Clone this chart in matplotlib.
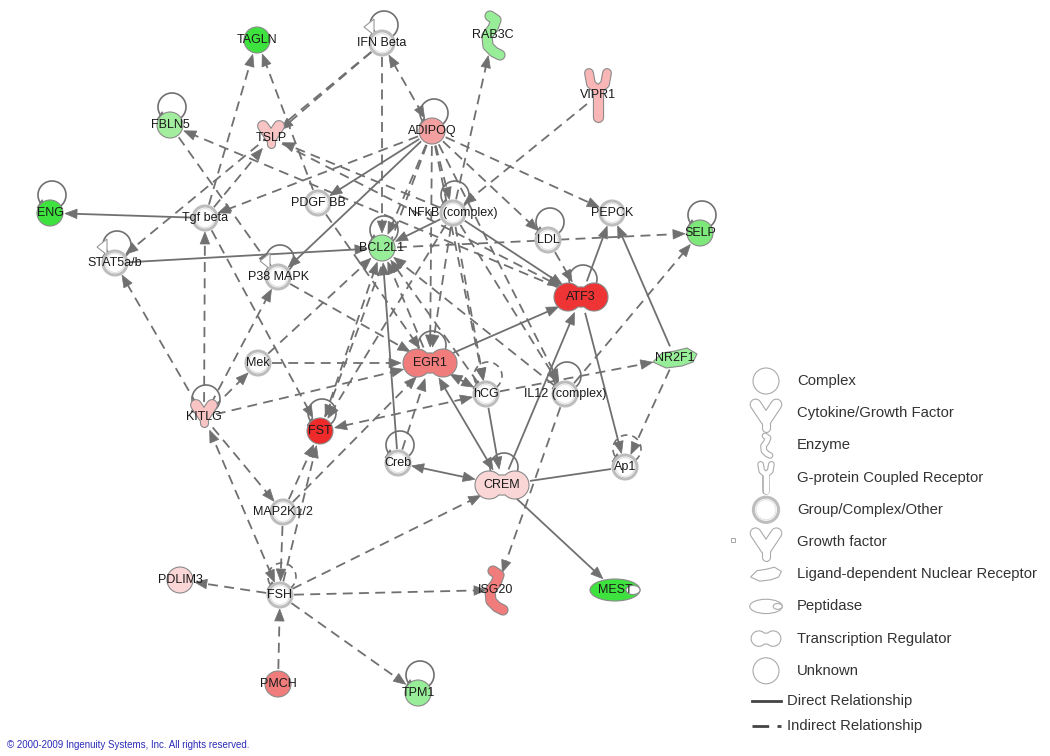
import numpy as np
import matplotlib.pyplot as plt
from matplotlib.patches import Circle, Ellipse, Polygon, Rectangle

plt.rcParams['font.family'] = ['Liberation Sans', 'DejaVu Sans']

# ---- network data (pixel layout of the IPA picture) ----
node_names = ['TAGLN', 'IFN Beta', 'RAB3C', 'VIPR1', 'FBLN5', 'TSLP', 'ADIPOQ',
              'ENG', 'Tgf beta', 'PDGF BB', 'NFkB (complex)', 'PEPCK', 'LDL',
              'SELP', 'STAT5a/b', 'BCL2L1', 'P38 MAPK', 'ATF3', 'Mek', 'EGR1',
              'hCG', 'IL12 (complex)', 'NR2F1', 'KITLG', 'FST', 'Creb', 'CREM',
              'Ap1', 'MAP2K1/2', 'PDLIM3', 'FSH', 'ISG20', 'MEST', 'PMCH', 'TPM1']
node_x = [257, 382, 493, 598, 170, 271, 432, 50, 205, 318, 453, 612, 548,
          700, 115, 382, 278, 581, 258, 430, 486, 565, 675, 204, 320, 398, 502,
          625, 283, 180, 280, 496, 615, 278, 418]
node_y = [40, 43, 35, 95, 125, 138, 131, 213, 218, 203, 213, 213, 240,
          233, 263, 248, 277, 297, 363, 363, 394, 394, 358, 417, 431, 463, 485,
          467, 512, 580, 595, 590, 590, 684, 693]
node_kind = ['circle', 'group', 'enzyme', 'gpcr', 'circle', 'cytokine', 'circle',
             'circle', 'group', 'group', 'group', 'group', 'group',
             'circle', 'group', 'circle', 'group', 'tr', 'group', 'tr',
             'group', 'group', 'ldnr', 'cytokine', 'circle', 'group', 'tr',
             'group', 'group', 'circle', 'group', 'enzyme', 'peptidase', 'circle', 'circle']
node_color = ['#3ee23e', 'w', '#98ee98', '#f8b6b6', '#a2ee9e', '#f8c4c4', '#f4a0a0',
              '#3ee23e', 'w', 'w', 'w', 'w', 'w',
              '#7ee87a', 'w', '#98ee98', 'w', '#ee3434', 'w', '#f07c7c',
              'w', 'w', '#98ee98', '#f8c4c4', '#ee2a2a', 'w', '#fad6d6',
              'w', 'w', '#fad6d6', 'w', '#f07c7c', '#3ee23e', '#f07c7c', '#98ee98']

solid_loops = ['IFN Beta', 'FBLN5', 'ADIPOQ', 'ENG', 'NFkB (complex)', 'LDL', 'SELP',
               'STAT5a/b', 'BCL2L1', 'P38 MAPK', 'ATF3', 'EGR1', 'IL12 (complex)',
               'KITLG', 'FST', 'Creb', 'CREM', 'TPM1']
dashed_loops = ['hCG', 'Ap1', 'FSH']
triangle_loops = ['IFN Beta', 'STAT5a/b', 'P38 MAPK']

direct_edges = [('Tgf beta', 'ENG'), ('STAT5a/b', 'BCL2L1'), ('ADIPOQ', 'PDGF BB'),
                ('ADIPOQ', 'P38 MAPK'), ('NFkB (complex)', 'BCL2L1'),
                ('NFkB (complex)', 'ATF3'), ('ATF3', 'PEPCK'), ('NR2F1', 'PEPCK'),
                ('ATF3', 'Ap1'), ('CREM', 'ATF3'), ('EGR1', 'ATF3'), ('hCG', 'CREM'),
                ('Creb', 'BCL2L1'), ('CREM', 'MEST')]
direct_both = [('EGR1', 'CREM'), ('Creb', 'CREM')]
plain_edges = [('CREM', 'Ap1')]
indirect_edges = [('Tgf beta', 'TAGLN'), ('PDGF BB', 'TAGLN'), ('IFN Beta', 'TSLP'),
                  ('IFN Beta', 'STAT5a/b'), ('IFN Beta', 'BCL2L1'), ('Tgf beta', 'TSLP'),
                  ('NFkB (complex)', 'TSLP'), ('ATF3', 'FBLN5'), ('FBLN5', 'P38 MAPK'),
                  ('Tgf beta', 'FST'), ('ADIPOQ', 'Tgf beta'), ('ADIPOQ', 'BCL2L1'),
                  ('ADIPOQ', 'NFkB (complex)'), ('ADIPOQ', 'EGR1'), ('ADIPOQ', 'hCG'),
                  ('ADIPOQ', 'LDL'), ('ADIPOQ', 'PEPCK'), ('ADIPOQ', 'FST'),
                  ('ADIPOQ', 'IL12 (complex)'), ('VIPR1', 'NFkB (complex)'),
                  ('NFkB (complex)', 'RAB3C'), ('NFkB (complex)', 'EGR1'),
                  ('NFkB (complex)', 'FST'), ('NFkB (complex)', 'hCG'),
                  ('NFkB (complex)', 'IL12 (complex)'), ('LDL', 'ATF3'),
                  ('BCL2L1', 'SELP'), ('IL12 (complex)', 'SELP'), ('NR2F1', 'Ap1'),
                  ('hCG', 'NR2F1'), ('Creb', 'EGR1'), ('IL12 (complex)', 'ISG20'),
                  ('FSH', 'PDLIM3'), ('FSH', 'ISG20'), ('FSH', 'TPM1'), ('PMCH', 'FSH'),
                  ('FSH', 'CREM'), ('FSH', 'FST'), ('MAP2K1/2', 'FSH'),
                  ('MAP2K1/2', 'FST'), ('MAP2K1/2', 'EGR1'), ('KITLG', 'STAT5a/b'),
                  ('KITLG', 'Tgf beta'), ('KITLG', 'P38 MAPK'), ('KITLG', 'Mek'),
                  ('KITLG', 'EGR1'), ('KITLG', 'MAP2K1/2'), ('Mek', 'EGR1'),
                  ('Mek', 'BCL2L1'), ('P38 MAPK', 'EGR1'), ('PDGF BB', 'EGR1'),
                  ('FST', 'BCL2L1'), ('EGR1', 'BCL2L1'), ('IL12 (complex)', 'BCL2L1'),
                  ('hCG', 'BCL2L1'), ('TSLP', 'ATF3')]
indirect_both = [('IFN Beta', 'ADIPOQ'), ('EGR1', 'hCG'), ('FST', 'hCG'), ('FSH', 'KITLG')]

legend_labels = ['Complex', 'Cytokine/Growth Factor', 'Enzyme', 'G-protein Coupled Receptor',
                 'Group/Complex/Other', 'Growth factor', 'Ligand-dependent Nuclear Receptor',
                 'Peptidase', 'Transcription Regulator', 'Unknown']
legend_kinds = ['circle', 'cytokine', 'enzyme', 'gpcr', 'group', 'cytokine', 'ldnr',
                'peptidase', 'tr', 'circle']
legend_scale = [1.0, 1.3, 0.5, 0.6, 1.05, 1.3, 0.7, 0.65, 0.55, 1.0]
line_labels = ['Direct Relationship', 'Indirect Relationship']

EDGE = '#707070'
extent = {'circle': (13, 13), 'group': (12, 12), 'tr': (27, 14), 'cytokine': (10, 13),
          'enzyme': (8, 22), 'gpcr': (10, 25), 'ldnr': (22, 10), 'peptidase': (25, 11)}

fig = plt.figure(figsize=(10.5, 7.56), dpi=100)
ax = fig.add_axes([0, 0, 1, 1])
ax.set_xlim(0, 1050)
ax.set_ylim(756, 0)
ax.axis('off')

pos = {n: (x, y) for n, x, y in zip(node_names, node_x, node_y)}
kind = dict(zip(node_names, node_kind))


def head(tx, ty, ux, uy):
    L, W = 12, 9.5
    bx, by = tx - ux * L, ty - uy * L
    pts = [(tx, ty), (bx - uy * W / 2, by + ux * W / 2), (bx + uy * W / 2, by - ux * W / 2)]
    ax.add_patch(Polygon(pts, closed=True, fc=EDGE, ec=EDGE, lw=0.5, zorder=3))


def reach(name, ux, uy):
    a, b = extent[kind[name]]
    return a * b / np.hypot(b * ux, a * uy) + 2


def edge(s, t, dashed, heads):
    x1, y1 = pos[s]
    x2, y2 = pos[t]
    d = np.hypot(x2 - x1, y2 - y1)
    ux, uy = (x2 - x1) / d, (y2 - y1) / d
    r1, r2 = reach(s, ux, uy), reach(t, ux, uy)
    px1, py1 = x1 + ux * r1, y1 + uy * r1
    px2, py2 = x2 - ux * r2, y2 - uy * r2
    lx1, ly1, lx2, ly2 = px1, py1, px2, py2
    if heads >= 1:
        head(px2, py2, ux, uy)
        lx2, ly2 = px2 - ux * 9, py2 - uy * 9
    if heads == 2:
        head(px1, py1, -ux, -uy)
        lx1, ly1 = px1 + ux * 9, py1 + uy * 9
    kw = dict(color=EDGE, lw=1.3, zorder=2, solid_capstyle='butt')
    if dashed:
        ax.plot([lx1, lx2], [ly1, ly2], dashes=(5.5, 3.5), **kw)
    else:
        ax.plot([lx1, lx2], [ly1, ly2], **kw)


for s, t in direct_edges:
    edge(s, t, False, 1)
for s, t in direct_both:
    edge(s, t, False, 2)
for s, t in plain_edges:
    edge(s, t, False, 0)
for s, t in indirect_edges:
    edge(s, t, True, 1)
for s, t in indirect_both:
    edge(s, t, True, 2)


def loop(name, dashed, tri):
    x, y = pos[name]
    cx, cy, r = x + 2, y - 18, 14
    t = np.radians(np.linspace(-55, 232, 60))
    xs, ys = cx + r * np.cos(t), cy - r * np.sin(t)
    if dashed:
        ax.plot(xs, ys, color=EDGE, lw=1.2, dashes=(4, 3), zorder=2)
    else:
        ax.plot(xs, ys, color=EDGE, lw=1.2, zorder=2)
    tt = np.radians(238)
    ux, uy = -np.sin(tt), -np.cos(tt)
    head(cx + r * np.cos(tt) + ux * 6, cy - r * np.sin(tt) + uy * 6, ux, uy)
    if tri:
        ax.add_patch(Polygon([(cx - r - 6, cy + 2), (cx - r + 4, cy - 6), (cx - r + 4, cy + 10)],
                             closed=True, fc='w', ec='#999999', lw=0.8, zorder=3))


for n in solid_loops:
    loop(n, False, n in triangle_loops)
for n in dashed_loops:
    loop(n, True, False)


def stroke(x, y, pts, fc, ec, lw, z=4):
    xs = [x + p[0] for p in pts]
    ys = [y + p[1] for p in pts]
    ax.plot(xs, ys, color=ec, lw=lw + 1.6, solid_capstyle='round', solid_joinstyle='round', zorder=z)
    ax.plot(xs, ys, color=fc, lw=lw, solid_capstyle='round', solid_joinstyle='round', zorder=z + 0.1)


def peanut(x, y, a, r, fc, ec, lw=0.8, z=4):
    th = np.linspace(0, 2 * np.pi, 200)
    pts = []
    for t in th:
        ux, uy = np.cos(t), np.sin(t)
        best = (a * 0.55) * (r * 0.72) / np.hypot(r * 0.72 * ux, a * 0.55 * uy)
        for c in (-a + r, a - r):
            uc = ux * c
            best = max(best, uc + np.sqrt(uc * uc - c * c + r * r))
        pts.append((x + best * ux, y + best * uy))
    ax.add_patch(Polygon(pts, closed=True, fc=fc, ec=ec, lw=lw, zorder=z))


def shape(k, x, y, fc, ec, s=1.0):
    if k == 'circle':
        ax.add_patch(Circle((x, y), 13 * s, fc=fc, ec=ec, lw=0.8, zorder=4))
    elif k == 'group':
        ax.add_patch(Circle((x, y), 12 * s, fc=fc, ec='#bdbdbd', lw=2.2, zorder=4))
        ax.add_patch(Circle((x, y), 9.5 * s, fc='none', ec='#e2e2e2', lw=0.8, zorder=4))
    elif k == 'tr':
        peanut(x, y, 27 * s, 14 * s, fc, ec)
    elif k == 'cytokine':
        stroke(x, y, [(-8 * s, -9 * s), (0, 3 * s), (8 * s, -9 * s)], fc, ec, 7 * min(s, 1))
        stroke(x, y, [(0, 3 * s), (0, 9 * s)], fc, ec, 5 * min(s, 1))
    elif k == 'enzyme':
        pts = [(-2, -19), (4, -15), (1, -7), (-5, 1), (-4, 11), (2, 17), (8, 20)]
        stroke(x, y, [(p[0] * s, p[1] * s) for p in pts], fc, ec, 6.5 * s)
    elif k == 'gpcr':
        stroke(x, y, [(-9 * s, -22 * s), (-7 * s, -11 * s), (0, -5 * s), (7 * s, -11 * s),
                      (9 * s, -22 * s)], fc, ec, 5.5 * s)
        stroke(x, y, [(0, -5 * s), (0, 22 * s)], fc, ec, 6.5 * s)
    elif k == 'ldnr':
        pts = [(-22, 4), (-13, -5), (0, -7), (12, -10), (22, -4), (18, 4), (7, 8), (-9, 10)]
        ax.add_patch(Polygon([(x + p[0] * s, y + p[1] * s) for p in pts], closed=True,
                             fc=fc, ec=ec, lw=0.8, zorder=4))
    elif k == 'peptidase':
        ax.add_patch(Ellipse((x, y), 50 * s, 22 * s, fc=fc, ec=ec, lw=0.8, zorder=4))
        ax.add_patch(Ellipse((x + 18 * s, y), 14 * s, 9 * s, fc='w', ec=ec, lw=0.8, zorder=4.1))


for n, x, y, k, c in zip(node_names, node_x, node_y, node_kind, node_color):
    ec = '#999999' if c == 'w' else '#8a8a8a'
    sy = y - 3 if k == 'cytokine' else y
    sx = x - 1 if k == 'enzyme' else x
    shape(k, sx, sy, c, ec)
    ax.text(x, y, n, ha='center', va='center', fontsize=9, color='#1a1a1a', zorder=6)

# legend
for i, (lab, k, sc) in enumerate(zip(legend_labels, legend_kinds, legend_scale)):
    ly = 381 + i * 32.2
    shape(k, 766, ly + (3 if k == 'cytokine' else 0), 'w', '#aaaaaa', sc)
    ax.text(797, ly, lab, ha='left', va='center', fontsize=10.7, color='#333333')
ax.plot([752, 781], [701, 701], color='#444444', lw=2)
ax.plot([752, 781], [726, 726], color='#444444', lw=2, dashes=(6, 3))
for lab, ly in zip(line_labels, [701, 726]):
    ax.text(787, ly, lab, ha='left', va='center', fontsize=10.7, color='#333333')
ax.add_patch(Rectangle((731, 538), 4, 4, fc='w', ec='#999999', lw=0.6))

ax.text(7, 745, '\u00a9 2000-2009 Ingenuity Systems, Inc. All rights reserved.',
        ha='left', va='center', fontsize=7, color='#2b2bb8')

fig.savefig('out.png', dpi=100)
